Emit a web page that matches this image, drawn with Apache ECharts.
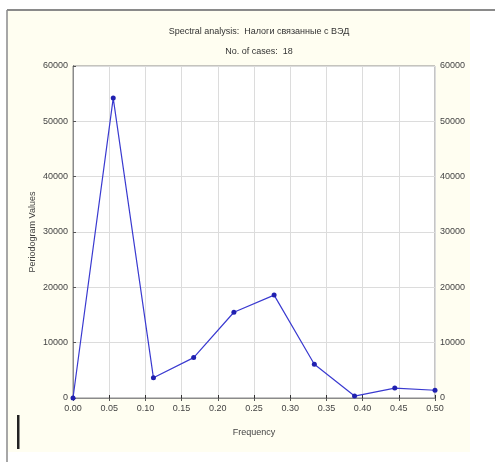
<!DOCTYPE html>
<html><head><meta charset="utf-8">
<script src="https://cdn.jsdelivr.net/npm/echarts@6/dist/echarts.min.js"></script>
<style>html,body{margin:0;padding:0;background:#fff}#c{width:495px;height:465px}</style>
</head><body><div id="c"></div>
<script>
const titleText = 'Spectral analysis:  Налоги связанные с ВЭД';
const subtitleText = 'No. of cases:  18';
const frequencies = [0, 1/18, 2/18, 3/18, 4/18, 5/18, 6/18, 7/18, 8/18, 9/18];
const periodogram = [0, 54200, 3650, 7300, 15500, 18600, 6100, 350, 1800, 1400];
const yTicks = [0, 10000, 20000, 30000, 40000, 50000, 60000];
const xTicks = [0, 0.05, 0.10, 0.15, 0.20, 0.25, 0.30, 0.35, 0.40, 0.45, 0.50];

const chart = echarts.init(document.getElementById('c'), null, {renderer:'canvas'});
const font = 'Liberation Sans, Arial, sans-serif';
const txt = '#444';
chart.setOption({
  animation:false,
  backgroundColor:'#fff',
  graphic:[
    {type:'rect', shape:{x:8,y:11,width:462,height:441}, style:{fill:'#fffef1'}, z:-10},
    {type:'line', shape:{x1:7,y1:10,x2:495,y2:10}, style:{stroke:'#8a8a8a', lineWidth:2}, z:-5},
    {type:'line', shape:{x1:7,y1:10,x2:7,y2:462}, style:{stroke:'#8a8a8a', lineWidth:1.5}, z:-5},
    {type:'rect', shape:{x:17,y:415,width:2.5,height:34}, style:{fill:'#222'}}
  ],
  title:[
    {text:titleText, left:254, top:22, textAlign:'center', textStyle:{fontFamily:font, fontSize:9, fontWeight:'normal', color:'#333'}},
    {text:subtitleText, left:254, top:42, textAlign:'center', textStyle:{fontFamily:font, fontSize:9, fontWeight:'normal', color:'#333'}}
  ],
  grid:{left:73, right:60, top:66, bottom:67, show:true, borderColor:'#8a8a8a', borderWidth:1, backgroundColor:'#fff'},
  xAxis:[
    {type:'value', min:0, max:0.5, interval:0.05, position:'bottom',
     name:'Frequency', nameLocation:'middle', nameGap:30,
     nameTextStyle:{fontFamily:font, fontSize:9, color:txt},
     axisLine:{show:true, onZero:false, lineStyle:{color:'#333', width:1}},
     axisTick:{show:true, inside:true, length:3, lineStyle:{color:'#333'}},
     axisLabel:{fontFamily:font, fontSize:9, color:txt, margin:6, formatter:v=>v.toFixed(2)},
     splitLine:{show:true, lineStyle:{color:'#dcdcdc', width:1}}},
    {type:'value', min:0, max:0.5, interval:0.05, position:'top',
     axisLine:{show:true, lineStyle:{color:'#8a8a8a'}},
     axisTick:{show:true, inside:true, length:3, lineStyle:{color:'#555'}},
     axisLabel:{show:false}, splitLine:{show:false}}
  ],
  yAxis:[
    {type:'value', min:0, max:60000, interval:10000, position:'left',
     name:'Periodogram Values', nameLocation:'middle', nameGap:36, nameRotate:90, nameMoveOverlap:false,
     nameTextStyle:{fontFamily:font, fontSize:9, color:txt},
     axisLine:{show:true, lineStyle:{color:'#333'}},
     axisTick:{show:true, inside:true, length:3, lineStyle:{color:'#555'}},
     axisLabel:{fontFamily:font, fontSize:9, color:txt, margin:5, formatter:v=>String(v)},
     splitLine:{show:true, lineStyle:{color:'#dcdcdc', width:1}}},
    {type:'value', min:0, max:60000, interval:10000, position:'right',
     axisLine:{show:true, lineStyle:{color:'#8a8a8a'}},
     axisTick:{show:true, inside:false, length:3, lineStyle:{color:'#555'}},
     axisLabel:{fontFamily:font, fontSize:9, color:txt, margin:5, formatter:v=>String(v)},
     splitLine:{show:false}}
  ],
  series:[{
    type:'line', xAxisIndex:0, yAxisIndex:0,
    data:frequencies.map((f,i)=>[f, periodogram[i]]),
    lineStyle:{color:'#3a3ad0', width:1.2},
    itemStyle:{color:'#2020b0'},
    symbol:'circle', symbolSize:5, showAllSymbol:true
  }]
});
</script></body></html>
